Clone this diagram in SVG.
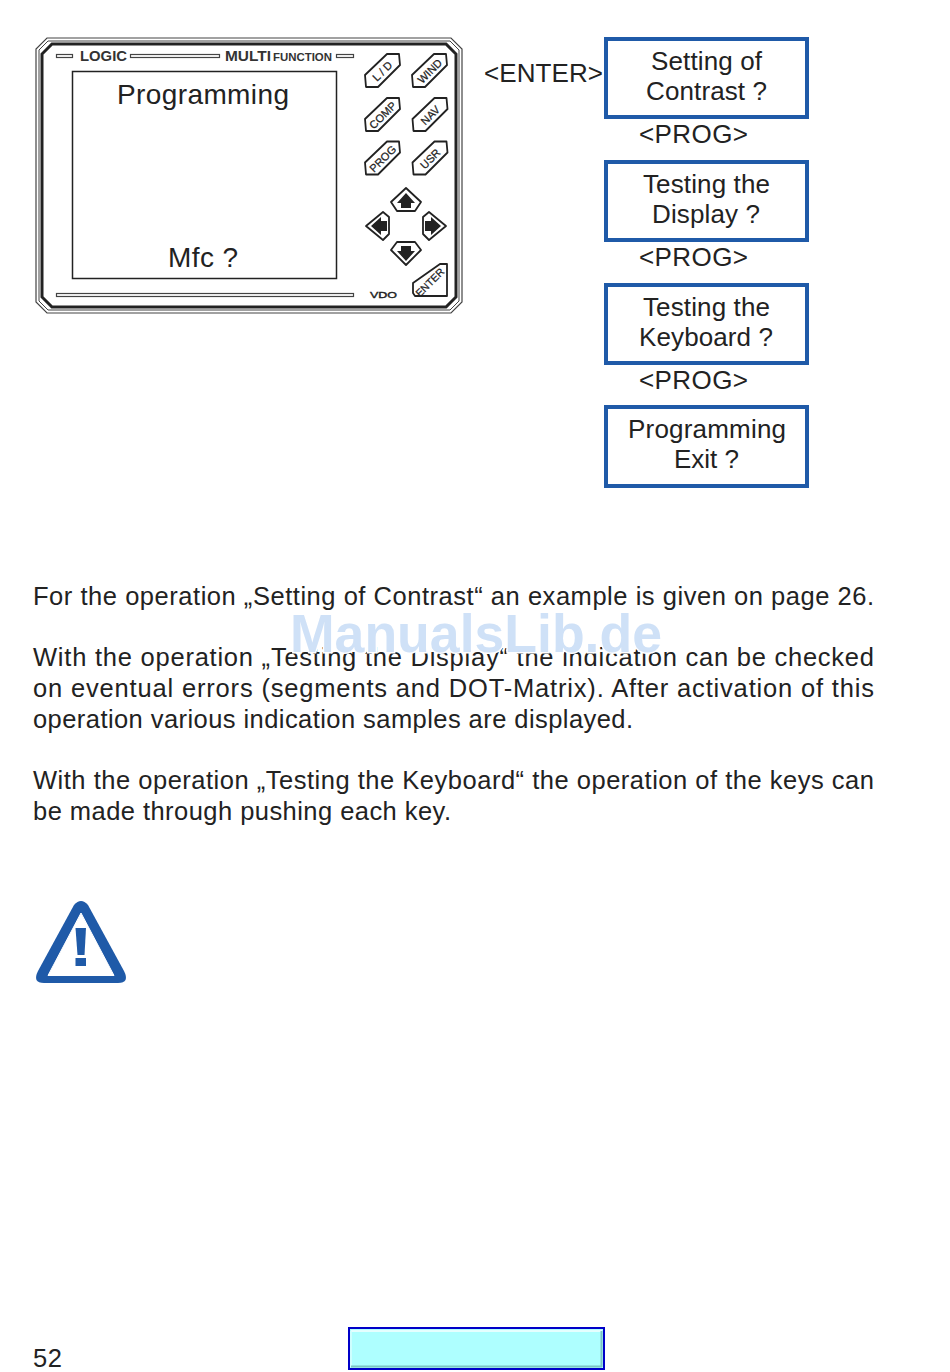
<svg xmlns="http://www.w3.org/2000/svg" xmlns:xlink="http://www.w3.org/1999/xlink" width="950" height="1372" viewBox="0 0 950 1372">
<style>
text{font-family:"Liberation Sans",Arial,sans-serif;fill:#222}
.body{font-size:25.5px}
.big{font-size:28px}
.box{font-size:26px}
.prog{font-size:26px}
.bx{fill:#fff;stroke:#1f5aa8;stroke-width:4}
.key{fill:#fff;stroke:#222;stroke-width:1.800;stroke-linejoin:round}
.kt{font-size:11px;text-anchor:middle;fill:#222;stroke:#222;stroke-width:.25}
.lab{font-weight:bold;font-size:14px;fill:#333}
.bar{fill:#fff;stroke:#444;stroke-width:1.200}
.wm{font-size:54px;font-weight:bold;fill:#cfe1f7;stroke:#fff;stroke-width:3;paint-order:stroke}
</style>
<defs>
<path id="k" class="key" d="M-17.500 4.500L4.500-16.500H16.500L17.500-5.500L-4.500 16.500H-16.500Z"/>
</defs>
<rect width="950" height="1372" fill="#fff"/>
<g id="display">
<path d="M47 38H451L462 49V302L451 313H47L36 302V49Z" fill="#fff" stroke="#444" stroke-width="1.200"/>
<path d="M48 41H450L459 50V301L450 310H48L39 301V50Z" fill="none" stroke="#444" stroke-width="1"/>
<path d="M52 44H446L456 54V297L446 307H52L42 297V54Z" fill="none" stroke="#222" stroke-width="3"/>
<rect x="72.500" y="71.500" width="264" height="207" fill="#fff" stroke="#222" stroke-width="1.500"/>
<rect class="bar" x="56.500" y="54.500" width="16" height="3"/>
<rect class="bar" x="130.500" y="54.500" width="89" height="3"/>
<rect class="bar" x="336.500" y="54.500" width="17" height="3"/>
<rect class="bar" x="56.500" y="293.500" width="297" height="3"/>
<text class="lab" x="80" y="61" textLength="47" lengthAdjust="spacingAndGlyphs">LOGIC</text>
<text class="lab" x="225" y="61" textLength="46" lengthAdjust="spacingAndGlyphs">MULTI</text>
<text class="lab" x="273" y="61" style="font-size:11px" textLength="59" lengthAdjust="spacingAndGlyphs">FUNCTION</text>
<text class="big" x="117" y="104" textLength="172">Programming</text>
<text class="big" x="168" y="267" textLength="70">Mfc ?</text>
<text x="370" y="298" style="font-size:9px" stroke="#222" stroke-width=".4" textLength="27" lengthAdjust="spacingAndGlyphs">VDO</text>
</g>
<g id="key-ld"><use xlink:href="#k" href="#k" transform="translate(382.500 70.500)"/><text class="kt" transform="translate(385 74) rotate(-45)">L / D</text></g>
<g id="key-wind"><use xlink:href="#k" href="#k" transform="translate(429.500 70.500)"/><text class="kt" transform="translate(432.500 74) rotate(-45)">WIND</text></g>
<g id="key-comp"><use xlink:href="#k" href="#k" transform="translate(382.500 114.500)"/><text class="kt" transform="translate(385.500 118) rotate(-45)">COMP</text></g>
<g id="key-nav"><use xlink:href="#k" href="#k" transform="translate(430 114.500)"/><text class="kt" transform="translate(433 118) rotate(-45)">NAV</text></g>
<g id="key-prog"><use xlink:href="#k" href="#k" transform="translate(382.500 158)"/><text class="kt" transform="translate(385.500 161.500) rotate(-45)">PROG</text></g>
<g id="key-usr"><use xlink:href="#k" href="#k" transform="translate(430 158)"/><text class="kt" transform="translate(433 161.500) rotate(-45)">USR</text></g>
<g id="key-up"><path class="key" d="M406 188L421 202L415 211H397L391 202Z"/><path d="M406 193L415 203H411V208H401V203H397Z" fill="#222"/></g>
<g id="key-left"><path class="key" d="M366 226L383 212L389 217V234L383 240Z"/><path d="M371 226L381 217V221H387V231H381V235Z" fill="#222"/></g>
<g id="key-right"><path class="key" d="M446 226L429 212L423 217V234L429 240Z"/><path d="M441 226L431 217V221H425V231H431V235Z" fill="#222"/></g>
<g id="key-down"><path class="key" d="M406 265L421 250L415 242H397L391 250Z"/><path d="M406 261L415 251H411V246H401V251H397Z" fill="#222"/></g>
<g id="key-enter"><path class="key" d="M413 283L440 264H447V296H415L413 293Z"/><text class="kt" transform="translate(432.500 285) rotate(-45)" style="font-size:10.500px">ENTER</text></g>
<g id="connectors">
<text class="prog" x="484" y="82" textLength="119">&lt;ENTER&gt;</text>
<text class="prog" x="639" y="143" textLength="109">&lt;PROG&gt;</text>
<text class="prog" x="639" y="266" textLength="109">&lt;PROG&gt;</text>
<text class="prog" x="639" y="389" textLength="109">&lt;PROG&gt;</text>
</g>
<g id="box1"><rect class="bx" x="606" y="39" width="201" height="78"/><text class="box" x="651" y="70" textLength="111">Setting of</text><text class="box" x="646" y="100" textLength="121">Contrast ?</text></g>
<g id="box2"><rect class="bx" x="606" y="162" width="201" height="78"/><text class="box" x="643" y="193" textLength="127">Testing the</text><text class="box" x="652" y="223" textLength="108">Display ?</text></g>
<g id="box3"><rect class="bx" x="606" y="285" width="201" height="78"/><text class="box" x="643" y="316" textLength="127">Testing the</text><text class="box" x="639" y="346" textLength="134">Keyboard ?</text></g>
<g id="box4"><rect class="bx" x="606" y="407" width="201" height="79"/><text class="box" x="628" y="438" textLength="158">Programming</text><text class="box" x="674" y="468" textLength="65">Exit ?</text></g>
<g id="page-text">
<text class="body" x="33" y="605" textLength="841">For the operation „Setting of Contrast“ an example is given on page 26.</text>
<text class="body" x="33" y="666" textLength="841">With the operation „Testing the Display“ the indication can be checked</text>
<text class="body" x="33" y="697" textLength="841">on eventual errors (segments and DOT-Matrix). After activation of this</text>
<text class="body" x="33" y="728" textLength="600">operation various indication samples are displayed.</text>
<text class="body" x="33" y="789" textLength="841">With the operation „Testing the Keyboard“ the operation of the keys can</text>
<text class="body" x="33" y="820" textLength="418">be made through pushing each key.</text>
<text class="body" x="33" y="1367" textLength="29">52</text>
</g>
<g id="watermark">
<text class="wm" x="290" y="652" textLength="372" lengthAdjust="spacingAndGlyphs">ManualsLib.de</text>
</g>
<g id="warning">
<path d="M74 905Q81 897 88 905L124 971Q130 983 118 983H44Q32 983 38 971Z" fill="#1f5aa8"/>
<path d="M81 913L114 975.500H48Z" fill="#fff" stroke="#fff" stroke-linejoin="round"/>
<path d="M75.500 928H86L84.500 955H77.500Z" fill="#1f5aa8"/>
<rect x="75.500" y="958" width="10.500" height="8" fill="#1f5aa8"/>
</g>
<g id="footer-box">
<rect x="349" y="1328" width="255" height="41" fill="#aeffff" stroke="#0000c8" stroke-width="2"/>
<path d="M351 1331H602" stroke="#e4ffff" stroke-width="2"/>
<path d="M351 1331V1367" stroke="#d8ffff" stroke-width="1.500"/>
<path d="M351 1366.500H602M601.500 1331V1367" stroke="#7cc4c4" stroke-width="2" fill="none"/>
</g>
</svg>
